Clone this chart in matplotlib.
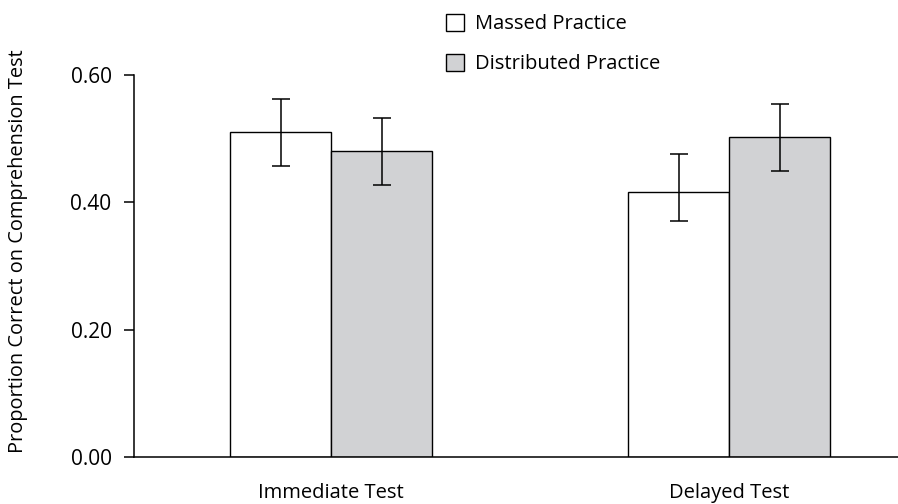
import matplotlib
matplotlib.use("Agg")
import matplotlib.pyplot as plt
from matplotlib.patches import Patch
from matplotlib.ticker import FormatStrFormatter
import numpy as np

# data
tests = ["Immediate Test", "Delayed Test"]
series = ["Massed Practice", "Distributed Practice"]
massed = [0.510, 0.417]
distributed = [0.480, 0.503]
massed_err_low = [0.053, 0.046]
massed_err_high = [0.053, 0.059]
distributed_err_low = [0.053, 0.053]
distributed_err_high = [0.053, 0.052]
y_ticks = [0.0, 0.2, 0.4, 0.6]

plt.rcParams['font.family'] = ['Open Sans', 'DejaVu Sans']

fig = plt.figure(figsize=(8.98, 5.04), dpi=100)
ax = fig.add_axes([134 / 898, 1 - 457.3 / 504, 1 - 134 / 898, (457.3 - 75) / 504])

x = np.arange(len(tests))
width = 0.254
colors = ["white", "#d1d2d4"]
err_kw = dict(ecolor="black", elinewidth=1.1, capsize=6.5, capthick=1.1)

ax.bar(x - width / 2, massed, width, color=colors[0], edgecolor="black", linewidth=1.0,
       yerr=[massed_err_low, massed_err_high], error_kw=err_kw)
ax.bar(x + width / 2, distributed, width, color=colors[1], edgecolor="black", linewidth=1.0,
       yerr=[distributed_err_low, distributed_err_high], error_kw=err_kw)

ax.set_xlim(-0.495, 1.424)
ax.set_ylim(0, 0.6)
ax.set_yticks(y_ticks)
ax.yaxis.set_major_formatter(FormatStrFormatter('%.2f'))
ax.set_xticks(x)
ax.set_xticklabels(tests)
ax.tick_params(axis='x', length=0, pad=18.5, labelsize=14.5)
ax.tick_params(axis='y', length=7.2, width=1.1, pad=9, labelsize=15)

for side in ["top", "right"]:
    ax.spines[side].set_visible(False)
for side in ["left", "bottom"]:
    ax.spines[side].set_linewidth(1.1)

fig.text(18 / 898, 1 - 251.5 / 504, "Proportion Correct on Comprehension Test",
         rotation=90, ha="center", va="center", fontsize=14.4)

handles = [Patch(facecolor=c, edgecolor="black", linewidth=1.0) for c in colors]
fig.legend(handles, series, loc="upper left", bbox_to_anchor=(446 / 898, 1 - 14 / 504),
           frameon=False, fontsize=14.5, handlelength=0.9, handleheight=0.9,
           handletextpad=0.55, labelspacing=0.98, borderpad=0, borderaxespad=0)

fig.savefig("out.png", dpi=100)
